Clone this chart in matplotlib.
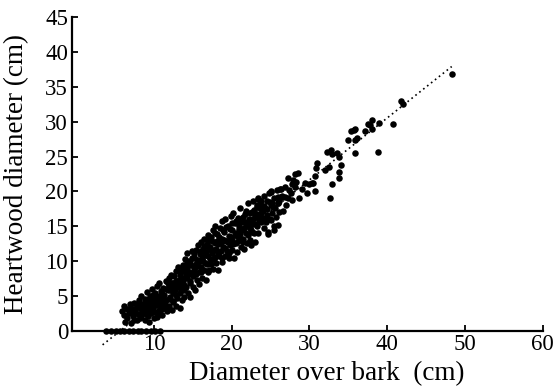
import matplotlib.pyplot as plt

# Diameter over bark (cm) vs heartwood diameter (cm)
dob = [
    # x 5.5 - 9
    5.9, 6.1, 6.3, 6.6, 6.2, 6.8, 7.0, 7.1, 7.3, 7.5, 7.6, 7.8, 7.9, 8.0, 8.1, 8.2,
    8.3, 8.4, 8.5, 8.6, 8.8, 8.8, 8.9,
    # x 9 - 11.7
    9.0, 9.1, 9.2, 9.3, 9.4, 9.5, 9.5, 9.6, 9.7, 9.8, 9.9, 10.0, 10.0, 10.1, 10.2,
    10.3, 10.4, 10.4, 10.5, 10.6, 10.6, 10.7, 10.8, 10.8, 10.9, 11.0, 11.0, 11.1,
    11.2, 11.3, 11.4, 11.5, 11.6, 11.7,
    # x 11.8 - 14
    11.8, 11.9, 12.0, 12.0, 12.1, 12.2, 12.3, 12.4, 12.5, 12.5, 12.6, 12.7, 12.8,
    12.9, 13.0, 13.0, 13.1, 13.2, 13.3, 13.4, 13.4, 13.5, 13.6, 13.7, 13.8, 13.9,
    13.9, 14.0, 14.0,
    # x 14 - 17
    14.1, 14.2, 14.3, 14.3, 14.4, 14.5, 14.6, 14.7, 14.7, 14.8, 14.9, 15.0, 15.0,
    15.1, 15.2, 15.3, 15.4, 15.4, 15.5, 15.6, 15.7, 15.8, 15.8, 15.9, 16.0, 16.1,
    16.2, 16.2, 16.3, 16.4, 16.5, 16.6, 16.7, 16.7, 16.8, 16.9, 16.9, 17.0, 17.1,
    17.2,
    # x 17 - 20
    17.3, 17.4, 17.5, 17.6, 17.6, 17.7, 17.8, 17.9, 18.0, 18.0, 18.1, 18.2, 18.3,
    18.4, 18.5, 18.6, 18.7, 18.8, 18.8, 18.9, 19.0, 19.1, 19.2, 19.3, 19.4, 19.5,
    19.6, 19.7, 19.8, 19.9, 20.0, 20.0, 20.1,
    # x 20 - 23
    20.2, 20.3, 20.4, 20.5, 20.6, 20.7, 20.8, 20.9, 21.0, 21.1, 21.2, 21.3, 21.4,
    21.5, 21.6, 21.7, 21.8, 21.9, 22.0, 22.1, 22.2, 22.3, 22.4, 22.5, 22.6, 22.7,
    22.8, 22.9, 23.0, 23.0,
    # x 23 - 26
    23.2, 23.3, 23.4, 23.4, 23.6, 23.7, 23.8, 24.0, 24.1, 24.2, 24.3, 24.5, 24.6,
    24.7, 24.8, 24.9, 25.0, 25.1, 25.2, 25.4, 25.5, 25.6, 25.8, 25.9, 26.0, 26.1,
    26.2, 26.3,
    # upper, sparser part
    48.3, 41.8, 42.0, 40.8, 38.8, 38.1, 37.5, 38.0, 37.2, 38.9, 35.3, 35.8, 35.0,
    35.9, 36.1, 35.9, 32.2, 32.8, 33.5, 32.9, 33.8, 34.1, 33.8, 33.8, 32.5, 31.0,
    30.8, 32.9, 32.7, 30.7, 30.4, 30.0, 30.7, 29.7, 28.1, 27.2, 28.5, 27.7, 28.1,
    29.0, 27.6, 26.3, 26.8, 26.0, 25.1, 23.4, 23.3, 24.2, 25.2, 26.0, 27.7, 28.6,
    25.1, 25.5, 24.7, 23.0, 23.8, 22.5, 29.4, 30.3, 32.0, 35.7, 37.8, 27.0, 26.6,
    27.3,
    # trees without heartwood
    3.9, 4.5, 5.1, 5.6, 6.2, 6.8, 7.3, 7.9, 8.4, 9.0, 9.6, 10.2, 10.8,
]

heartwood = [
    2.8, 2.3, 1.3, 1.8, 3.5, 2.6, 1.2, 3.3, 2.1, 4.0, 2.9, 1.6, 3.6, 2.4, 4.4, 1.9,
    3.1, 5.0, 2.6, 3.8, 1.5, 4.6, 2.9,
    3.4, 5.6, 2.2, 4.2, 1.3, 3.0, 5.0, 2.5, 4.0, 6.0, 3.3, 1.8, 4.6, 2.7, 5.4,
    3.7, 2.0, 6.4, 4.2, 3.0, 5.0, 6.8, 2.4, 3.9, 5.7, 4.5, 3.2, 2.3,
    6.2, 5.1, 3.8, 7.2, 4.4, 2.8,
    5.8, 3.5, 7.6, 6.5, 4.8, 8.0, 3.0, 5.4, 6.9, 4.1, 7.8, 5.9, 3.5,
    8.6, 6.3, 4.7, 9.2, 7.3, 5.4, 3.3, 8.0, 6.6, 4.4, 9.5, 7.1, 5.8,
    4.9, 8.4, 10.3,
    6.3, 9.0, 11.1, 7.6, 5.4, 8.5, 10.0, 4.9, 6.9, 9.4, 11.4, 7.9, 6.3,
    10.6, 8.8, 5.8, 11.6, 9.6, 7.3, 10.1, 12.3, 8.4, 6.7, 11.0, 9.2, 12.8,
    7.6, 10.4, 11.8, 8.8, 13.2, 9.8, 7.3, 11.3, 12.4, 13.8, 8.5, 10.7, 8.7,
    12.0,
    9.6, 13.4, 11.2, 14.4, 8.9, 10.3, 12.6, 15.0, 9.8, 11.8, 13.9, 8.7, 12.4,
    10.7, 14.8, 11.5, 13.2, 15.7, 9.9, 12.0, 14.2, 10.8, 16.1, 12.9, 11.4, 15.0,
    13.6, 10.5, 12.3, 16.5, 14.4, 11.6, 13.1,
    16.9, 10.4, 15.4, 12.6, 14.0, 11.3, 16.2, 13.4, 15.0, 17.6, 12.0, 14.5, 16.4,
    13.2, 11.8, 15.6, 17.2, 14.0, 12.6, 18.3, 16.0, 14.8, 13.1, 12.3, 17.0, 15.3,
    18.6, 14.1, 12.8, 16.4,
    17.7, 15.0, 19.0, 14.0, 16.6, 18.2, 15.6, 17.2, 19.4, 14.8, 16.2, 18.6, 17.5,
    14.2, 19.7, 16.0, 18.0, 20.0, 16.9, 15.0, 19.0, 17.6, 20.2, 18.4, 15.2, 17.0,
    20.3, 19.2,
    36.9, 33.0, 32.6, 29.7, 25.7, 30.3, 29.7, 29.0, 28.7, 29.8, 28.7, 29.0, 27.4,
    27.4, 27.7, 25.5, 25.6, 25.9, 25.5, 25.3, 24.9, 23.8, 22.8, 21.9, 23.5, 24.0,
    23.3, 21.0, 19.0, 22.2, 21.2, 21.1, 20.0, 19.7, 22.5, 21.9, 22.7, 21.0, 20.7,
    20.4, 19.7, 20.3, 19.2, 19.2, 19.9, 18.9, 18.1, 17.8, 18.3, 18.3, 18.8, 19.1,
    15.9, 14.5, 13.9, 16.4, 16.9, 14.5, 21.2, 21.2, 23.1, 28.8, 29.5, 18.0, 17.2,
    19.0,
    0, 0, 0, 0, 0, 0, 0, 0, 0, 0, 0, 0, 0,
]

# more trees filling the dense core of the cloud
dob_core = [
    6.5, 6.9, 7.2, 7.4, 7.7, 8.0, 8.3, 8.7, 8.9, 9.0,
    9.2, 9.4, 9.6, 9.9, 10.1, 10.3, 10.5, 10.7, 10.9, 11.1, 11.3, 11.5, 11.6,
    11.8, 11.9,
    12.1, 12.3, 12.4, 12.6, 12.8, 12.9, 13.1, 13.3, 13.5, 13.6, 13.8, 13.9, 14.1,
    14.2, 14.4, 14.6, 14.8, 14.9,
    15.1, 15.2, 15.4, 15.5, 15.7, 15.9, 16.0, 16.1, 16.3, 16.4, 16.6, 16.8, 16.9,
    17.0, 17.2, 17.3, 17.5, 17.7, 17.8, 17.9,
    18.1, 18.2, 18.4, 18.6, 18.7, 18.9, 19.0, 19.2, 19.3, 19.5, 19.6, 19.8, 19.9,
    20.1, 20.2, 20.4, 20.6, 20.8, 20.9,
    21.1, 21.2, 21.4, 21.6, 21.7, 21.9, 22.1, 22.3, 22.4, 22.6, 22.8, 22.9, 23.1,
    23.3, 23.5, 23.6, 23.8, 24.0, 24.2, 24.4,
    24.6, 24.9, 25.3, 25.7, 26.1, 26.5, 26.9, 27.4, 27.9, 28.3,
]

hw_core = [
    3.1, 3.9, 2.6, 1.5, 3.3, 3.9, 2.2, 3.4, 4.2, 2.4,
    3.8, 4.6, 3.5, 5.2, 3.9, 4.9, 2.6, 4.6, 3.4, 5.3, 4.0, 6.0, 3.3,
    6.9, 4.5,
    5.9, 6.9, 4.3, 6.2, 7.2, 5.1, 6.6, 8.4, 5.9, 7.6, 9.0, 6.6, 7.9,
    10.0, 9.5, 7.1, 8.2, 10.4,
    9.1, 11.2, 8.2, 10.2, 9.3, 10.0, 11.5, 8.5, 10.0, 12.2, 10.9, 9.6, 12.0,
    13.0, 10.3, 11.6, 12.9, 11.6, 14.0, 10.6,
    12.9, 11.1, 13.5, 12.6, 10.5, 14.4, 13.1, 11.9, 14.9, 12.8, 11.2, 14.6, 13.5,
    15.4, 12.4, 13.7, 15.8, 12.9, 14.6,
    13.9, 15.6, 12.7, 14.8, 16.8, 15.2, 13.8, 16.9, 15.5, 14.2, 16.1, 17.4, 15.3,
    16.8, 15.9, 17.6, 18.6, 16.0, 17.9, 15.6,
    16.6, 18.5, 17.8, 16.4, 18.6, 19.4, 20.6, 20.2, 21.6, 21.4,
]

# end points of the dotted fitted line
fit_x = [3.4, 48.3]
fit_y = [-2.0, 37.9]

x_ticks = [10, 20, 30, 40, 50, 60]
y_ticks = [0, 5, 10, 15, 20, 25, 30, 35, 40, 45]

plt.rcParams['font.family'] = ['Liberation Serif', 'DejaVu Serif']

fig = plt.figure(figsize=(5.56, 3.87), dpi=100)
ax = fig.add_axes([0.130, 0.145, 0.846, 0.811])

ax.scatter(dob + dob_core, heartwood + hw_core, s=22, c='black', linewidths=0,
           clip_on=False, zorder=3)
ax.plot(fit_x, fit_y, color='black', linestyle=(0, (1, 2)), linewidth=1.2,
        clip_on=False, zorder=2)

ax.set_xlim(-0.5, 60)
ax.set_ylim(0, 45)
ax.set_xticks(x_ticks)
ax.set_yticks(y_ticks)

for side in ['top', 'right']:
    ax.spines[side].set_visible(False)
for side in ['left', 'bottom']:
    ax.spines[side].set_linewidth(1.6)

ax.tick_params(direction='in', length=4, width=1.3, labelsize=16.5, pad=2)
ax.tick_params(axis='y', pad=3)

ax.set_xlabel('Diameter over bark  (cm)', fontsize=19.5)
ax.xaxis.set_label_coords(0.542, -0.156)
ax.xaxis.label.set_va('baseline')
ax.set_ylabel('Heartwood diameter (cm)', fontsize=19.5)
ax.yaxis.set_label_coords(-0.092, 0.5)

fig.savefig('out.png', dpi=100)
